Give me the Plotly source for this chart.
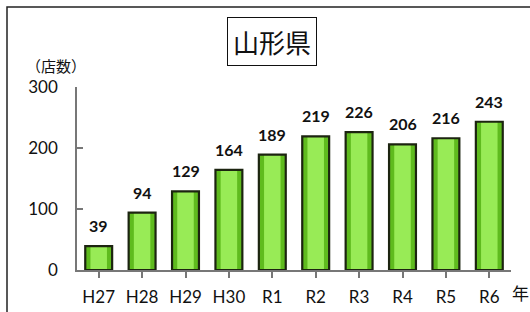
import plotly.graph_objects as go

categories = ["H27", "H28", "H29", "H30", "R1", "R2", "R3", "R4", "R5", "R6"]
values = [39, 94, 129, 164, 189, 219, 226, 206, 216, 243]
y_ticks = [0, 100, 200, 300]

FONT = "Lato, 'Noto Sans CJK JP', sans-serif"
JP = "'Noto Sans CJK JP', sans-serif"

fig = go.Figure()
fig.add_trace(go.Bar(x=categories, y=values, width=0.62,
                     marker=dict(color="#5fbb1e", line=dict(width=0)),
                     hoverinfo="skip", showlegend=False))
fig.add_trace(go.Bar(x=categories, y=values, width=0.38,
                     marker=dict(color="#98eb56", line=dict(width=0)),
                     hoverinfo="skip", showlegend=False))
fig.add_trace(go.Bar(x=categories, y=values, width=0.62,
                     marker=dict(color="rgba(0,0,0,0)", line=dict(color="#1c2410", width=2.2)),
                     showlegend=False))

for c, v in zip(categories, values):
    fig.add_annotation(x=c, y=v, text=f"<b>{v}</b>", showarrow=False,
                       yanchor="bottom", yshift=9,
                       font=dict(family=FONT, size=16, color="#111"))

fig.add_annotation(xref="paper", yref="paper", x=(272 - 77) / 434, y=1 + (87 - 42) / 183,
                   text="山形県", showarrow=False, xanchor="center", yanchor="middle",
                   font=dict(family=JP, size=26, color="#111"),
                   bordercolor="#111", borderwidth=1, borderpad=5, bgcolor="white")
fig.add_annotation(xref="paper", yref="paper", x=(56 - 77) / 434, y=1 + (87 - 65) / 183,
                   text="（店数）", showarrow=False, xanchor="center", yanchor="middle",
                   font=dict(family=JP, size=15, color="#111"))
fig.add_annotation(xref="paper", yref="paper", x=(520 - 77) / 434, y=(270 - 292) / 183,
                   text="年", showarrow=False, xanchor="center", yanchor="middle",
                   font=dict(family=JP, size=17, color="#111"))

fig.add_shape(type="rect", xref="paper", yref="paper",
              x0=(7 - 77) / 434, x1=(540 - 77) / 434,
              y0=(270 - 330) / 183, y1=1 + (87 - 7) / 183,
              line=dict(color="#222", width=1.5), fillcolor="rgba(0,0,0,0)", layer="below")

fig.update_layout(
    width=530, height=312,
    margin=dict(l=77, r=19, t=87, b=42, autoexpand=False),
    paper_bgcolor="white", plot_bgcolor="white",
    barmode="overlay",
    font=dict(family=FONT, size=17, color="#111"),
    xaxis=dict(showline=True, linecolor="#777", linewidth=1.5, automargin=False,
               ticks="outside", ticklen=6, tickcolor="#777", tickwidth=1.5,
               showgrid=False, tickfont=dict(size=17), ticklabelstandoff=5),
    yaxis=dict(range=[0, 300], tickvals=y_ticks, showline=True, linecolor="#777", linewidth=1.5,
               automargin=False,
               ticks="inside", ticklen=6, tickcolor="#777", tickwidth=1.5,
               showgrid=False, zeroline=False, tickfont=dict(size=17), ticklabelstandoff=14),
)

fig.write_html("out.html", config={"displayModeBar": False},
               post_script="document.body.style.margin='0';")
